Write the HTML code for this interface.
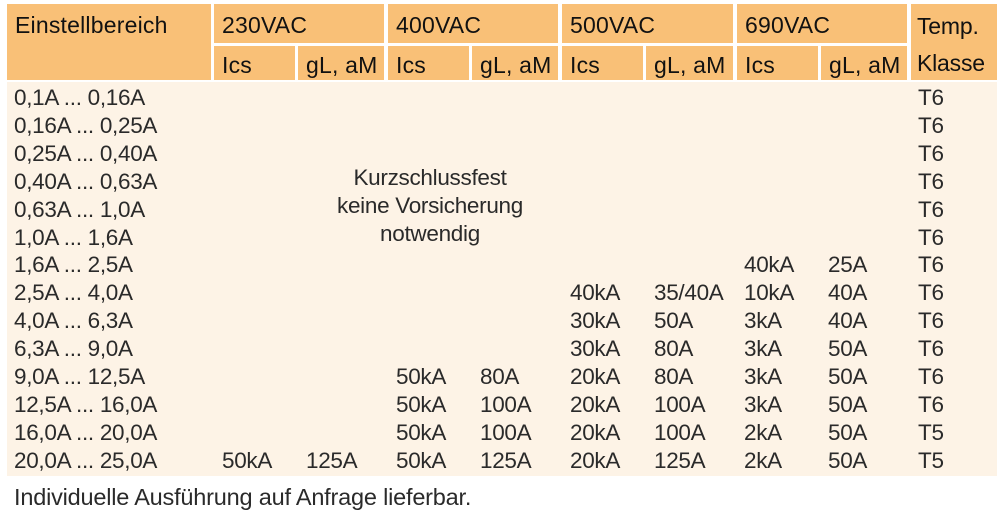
<!DOCTYPE html>
<html><head><meta charset="utf-8"><style>
body{margin:0;width:1000px;height:523px;background:#fff;font-family:"Liberation Sans",sans-serif;position:relative;overflow:hidden}
.h{position:absolute;background:#F9C077;color:#111;font-size:23px;letter-spacing:0.2px;box-sizing:border-box;padding-left:8px;white-space:nowrap}
.c{position:absolute;font-size:22.5px;color:#2a2a2a;white-space:nowrap;line-height:28px;letter-spacing:-0.3px}
#body{position:absolute;left:7px;top:82px;width:990px;height:394px;background:#FDF3E6}
</style></head><body>
<div class="h" style="left:7px;top:4px;width:204px;height:76px;line-height:42px">Einstellbereich</div>
<div class="h" style="left:214px;top:4px;width:170px;height:39px;line-height:42px">230VAC</div>
<div class="h" style="left:388px;top:4px;width:170px;height:39px;line-height:42px">400VAC</div>
<div class="h" style="left:562px;top:4px;width:171px;height:39px;line-height:42px">500VAC</div>
<div class="h" style="left:737px;top:4px;width:170px;height:39px;line-height:42px">690VAC</div>
<div class="h" style="left:911px;top:4px;width:86px;height:76px;padding-left:6px;letter-spacing:-0.2px;line-height:37px;padding-top:4px">Temp.<br>Klasse</div>
<div id="subs"></div>
<div id="body"></div>
<div id="rows"></div>
<div class="c" style="left:230px;top:164px;width:400px;text-align:center">Kurzschlussfest<br>keine Vorsicherung<br>notwendig</div>
<div class="c" style="left:14px;top:483px;font-size:23.5px;letter-spacing:-0.2px">Individuelle Ausführung auf Anfrage lieferbar.</div>
<script>
const subX=[[214,81],[298,86],[388,81],[472,86],[562,81],[646,87],[737,81],[821,86]];
const subs=document.getElementById('subs');
subX.forEach((s,i)=>{const d=document.createElement('div');d.className='h';


d.style.cssText=`left:${s[0]}px;top:46px;width:${s[1]}px;height:34px;line-height:38px`;d.textContent=i%2?'gL, aM':'Ics';subs.appendChild(d);});
const rows=[
["0,1A ... 0,16A","","","","","","","","","T6"],
["0,16A ... 0,25A","","","","","","","","","T6"],
["0,25A ... 0,40A","","","","","","","","","T6"],
["0,40A ... 0,63A","","","","","","","","","T6"],
["0,63A ... 1,0A","","","","","","","","","T6"],
["1,0A ... 1,6A","","","","","","","","","T6"],
["1,6A ... 2,5A","","","","","","","40kA","25A","T6"],
["2,5A ... 4,0A","","","","","40kA","35/40A","10kA","40A","T6"],
["4,0A ... 6,3A","","","","","30kA","50A","3kA","40A","T6"],
["6,3A ... 9,0A","","","","","30kA","80A","3kA","50A","T6"],
["9,0A ... 12,5A","","","50kA","80A","20kA","80A","3kA","50A","T6"],
["12,5A ... 16,0A","","","50kA","100A","20kA","100A","3kA","50A","T6"],
["16,0A ... 20,0A","","","50kA","100A","20kA","100A","2kA","50A","T5"],
["20,0A ... 25,0A","50kA","125A","50kA","125A","20kA","125A","2kA","50A","T5"]];
const colX=[14,222,306,396,480,570,654,744,828,918];
const R=document.getElementById('rows');
rows.forEach((r,ri)=>r.forEach((t,ci)=>{if(!t)return;const d=document.createElement('div');d.className='c';


d.style.left=colX[ci]+'px';d.style.top=(84+ri*27.9)+'px';d.textContent=t;R.appendChild(d);}));
</script>
</body></html>
